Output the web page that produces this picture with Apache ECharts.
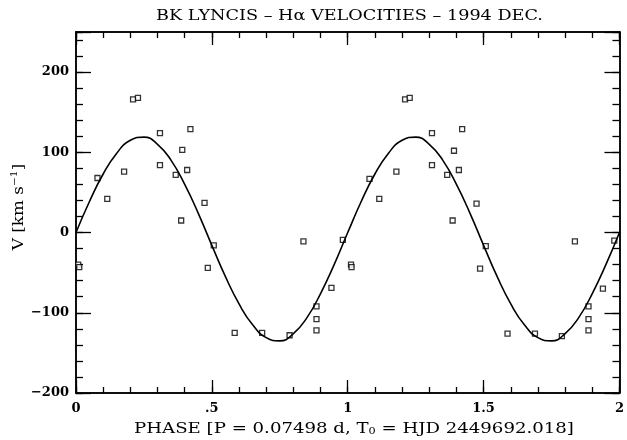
<!DOCTYPE html>
<html><head><meta charset="utf-8">
<script src="https://cdn.jsdelivr.net/npm/echarts@6/dist/echarts.min.js"></script>
<style>html,body{margin:0;padding:0;background:#fff}#c{width:627px;height:440px}</style>
</head><body><div id="c"></div>
<script>
// Observed velocities (two phase cycles as plotted)
const phase = [
  0.008, 0.012, 0.079, 0.115, 0.177, 0.210, 0.228, 0.309, 0.309, 0.367, 0.387, 0.391, 0.409, 0.421,
  0.473, 0.485, 0.507, 0.584, 0.685, 0.786, 0.837, 0.885, 0.885, 0.885, 0.940, 0.982,
  1.012, 1.014, 1.080, 1.116, 1.179, 1.211, 1.228, 1.310, 1.310, 1.366, 1.386, 1.391, 1.409, 1.421,
  1.474, 1.487, 1.508, 1.588, 1.689, 1.788, 1.836, 1.886, 1.886, 1.886, 1.939, 1.981
];
const velocity = [
  -40, -43, 68, 42, 76, 166, 168, 124, 84, 72, 15, 103, 78, 129,
  37, -44, -16, -125, -125, -128, -11, -92, -108, -122, -69, -9,
  -40, -43, 67, 42, 76, 166, 168, 124, 84, 72, 15, 102, 78, 129,
  36, -45, -17, -126, -126, -129, -11, -92, -108, -122, -70, -10
];
// Fitted curve
const curvePhase = [0,0.05,0.1,0.15,0.2,0.25,0.3,0.35,0.4,0.45,0.5,0.55,0.6,0.65,0.7,0.75,0.8,0.85,0.9,0.95,
  1,1.05,1.1,1.15,1.2,1.25,1.3,1.35,1.4,1.45,1.5,1.55,1.6,1.65,1.7,1.75,1.8,1.85,1.9,1.95,2];
const curveV = [0,39,73,99,115,119,110,90,60,24,-16,-55,-89,-115,-131,-135,-126,-106,-76,-40,
  0,39,73,99,115,119,110,90,60,24,-16,-55,-89,-115,-131,-135,-126,-106,-76,-40,0];
const xTickLabels = {0:'0',0.5:'.5',1:'1',1.5:'1.5',2:'2'};
const yTickLabels = {'-200':'\u2212200','-100':'\u2212100','0':'0','100':'100','200':'200'};

const FONT = 'DejaVu Serif';
const chart = echarts.init(document.getElementById('c'));
const G = {left:76, right:6, top:32, bottom:47};
function xAx(pos, interval, len, labels){
  return {type:'value', position:pos, min:0, max:2, interval:interval,
    axisLine:{show:true, onZero:false, lineStyle:{color:'#000', width:1.5}},
    axisTick:{show:true, inside:true, length:len, lineStyle:{color:'#000', width:1.3}},
    splitLine:{show:false}, minorTick:{show:false},
    axisLabel:{show:labels, margin:9, color:'#000', fontFamily:FONT, fontWeight:'bold', fontSize:13,
      formatter:v=>{const k=Math.round(v*10)/10; return xTickLabels[k]!==undefined?xTickLabels[k]:'';}}};
}
function yAx(pos, interval, len, labels){
  return {type:'value', position:pos, min:-200, max:250, interval:interval,
    axisLine:{show:true, onZero:false, lineStyle:{color:'#000', width:1.5}},
    axisTick:{show:true, inside:true, length:len, lineStyle:{color:'#000', width:1.3}},
    splitLine:{show:false},
    axisLabel:{show:labels, margin:7, color:'#000', fontFamily:FONT, fontWeight:'bold', fontSize:13,
      formatter:v=>{const k=String(Math.round(v)); return yTickLabels[k]!==undefined?yTickLabels[k]:'';}}};
}
chart.setOption({
  animation:false,
  backgroundColor:'#fff',
  grid:G,
  xAxis:[xAx('bottom',0.5,13,true), xAx('bottom',0.1,6,false), xAx('top',0.5,13,false), xAx('top',0.1,6,false)],
  yAxis:[yAx('left',100,15,true), yAx('left',20,7,false), yAx('right',100,15,false), yAx('right',20,7,false)],
  series:[
    {type:'line', xAxisIndex:0, yAxisIndex:0, data:curvePhase.map((p,i)=>[p,curveV[i]]),
     smooth:true, showSymbol:false, lineStyle:{color:'#000', width:1.6}, clip:true},
    {type:'scatter', xAxisIndex:0, yAxisIndex:0, data:phase.map((p,i)=>[p,velocity[i]]),
     symbol:'rect', symbolSize:5, itemStyle:{color:'#fff', borderColor:'#000', borderWidth:1.3}, clip:true}
  ],
  graphic:[
    {type:'text', x:349.5, y:16, scaleX:1.26, style:{text:'BK LYNCIS \u2013 H\u03b1 VELOCITIES \u2013 1994 DEC.',
      font:'14px "DejaVu Serif"', fill:'#000', align:'center', verticalAlign:'middle'}},
    {type:'text', x:354, y:429, scaleX:1.25, style:{
      text:'PHASE [P = 0.07498 d, T{s|0} = HJD 2449692.018]',
      font:'14.5px "DejaVu Serif"', fill:'#000', align:'center', verticalAlign:'middle',
      rich:{s:{fontSize:9, fontFamily:FONT, verticalAlign:'bottom', padding:[6,0,0,0]}}}},
    {type:'text', x:19, y:207, rotation:Math.PI/2, scaleX:1.2, style:{
      text:'V [km s{u|\u22121}]', font:'14px "DejaVu Serif"', fill:'#000', align:'center', verticalAlign:'middle',
      rich:{u:{fontSize:9, fontFamily:FONT, verticalAlign:'top', padding:[0,0,8,0]}}}}
  ]
});
</script></body></html>
